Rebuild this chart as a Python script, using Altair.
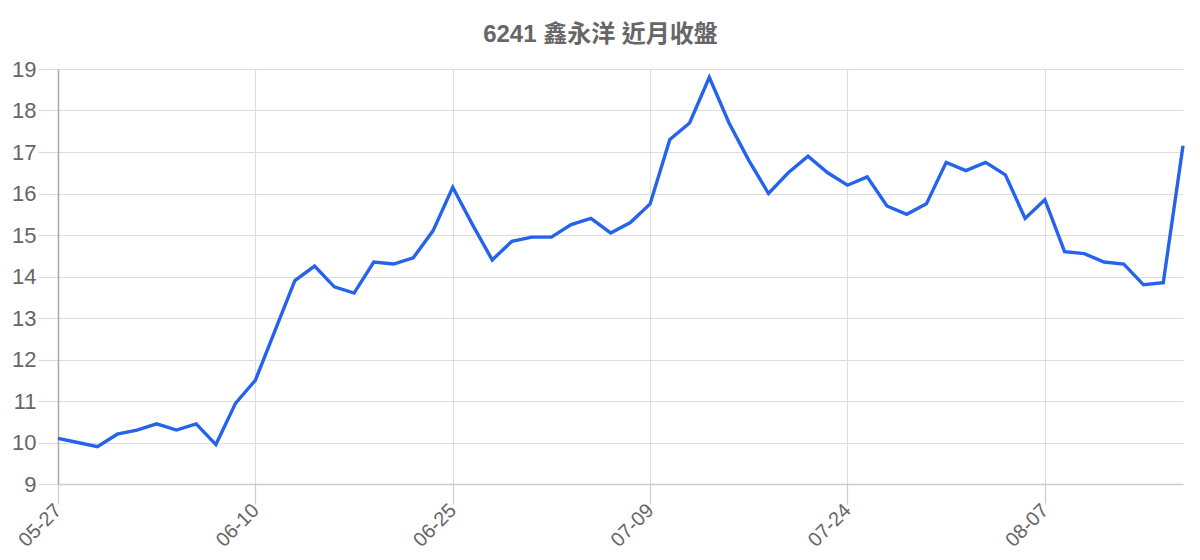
import altair as alt
import pandas as pd

dates = [
    "05-27", "05-28", "05-29", "05-30", "05-31", "06-03", "06-04", "06-05", "06-06", "06-07",
    "06-10", "06-11", "06-12", "06-13", "06-17", "06-18", "06-19", "06-20", "06-21", "06-24",
    "06-25", "06-26", "06-27", "06-28", "07-01", "07-02", "07-03", "07-04", "07-05", "07-08",
    "07-09", "07-10", "07-11", "07-12", "07-15", "07-16", "07-17", "07-18", "07-22", "07-23",
    "07-24", "07-25", "07-26", "07-29", "07-30", "07-31", "08-01", "08-02", "08-05", "08-06",
    "08-07", "08-08", "08-09", "08-12", "08-13", "08-14", "08-15", "08-16",
]
closes = [
    10.1, 10.0, 9.9, 10.2, 10.3, 10.45, 10.3, 10.45, 9.95, 10.95,
    11.5, 12.7, 13.9, 14.25, 13.75, 13.6, 14.35, 14.3, 14.45, 15.1,
    16.15, 15.25, 14.4, 14.85, 14.95, 14.95, 15.25, 15.4, 15.05, 15.3,
    15.75, 17.3, 17.7, 18.8, 17.7, 16.8, 16.0, 16.5, 16.9, 16.5,
    16.2, 16.4, 15.7, 15.5, 15.75, 16.75, 16.55, 16.75, 16.45, 15.4,
    15.85, 14.6, 14.55, 14.35, 14.3, 13.8, 13.85, 17.15,
]
tick_dates = ["05-27", "06-10", "06-25", "07-09", "07-24", "08-07"]
y_ticks = list(range(9, 20))
title_text = "6241 鑫永洋 近月收盤"

df = pd.DataFrame({"date": dates, "close": closes})

FONT = "Liberation Sans, Noto Sans CJK TC, sans-serif"

chart = (
    alt.Chart(df)
    .mark_line(color="#2563eb", strokeWidth=3.4, strokeJoin="miter")
    .encode(
        x=alt.X(
            "date:O",
            sort=dates,
            scale=alt.Scale(type="point", padding=0),
            axis=alt.Axis(
                values=tick_dates,
                title=None,
                labelAngle=-45,
                labelAlign="right",
                labelBaseline="middle",
                labelFontSize=20,
                labelColor="#666666",
                labelFont=FONT,
                labelPadding=3,
                tickSize=20,
                tickColor="#cccccc",
                tickWidth=1.2,
                grid=True,
                gridColor="#dddddd",
                gridWidth=1.2,
                domainColor="#cccccc",
                domainWidth=1.5,
            ),
        ),
        y=alt.Y(
            "close:Q",
            scale=alt.Scale(domain=[9, 19], nice=False, zero=False),
            axis=alt.Axis(
                values=y_ticks,
                title=None,
                labelFontSize=22,
                labelColor="#666666",
                labelFont=FONT,
                labelPadding=2,
                tickSize=20,
                tickColor="#dddddd",
                tickWidth=1.2,
                gridColor="#dddddd",
                gridWidth=1.2,
                domainColor="#aaaaaa",
                domainWidth=1.5,
            ),
        ),
    )
    .properties(
        width=1125,
        height=415,
        title=alt.TitleParams(
            title_text,
            fontSize=24,
            fontWeight="bold",
            color="#666666",
            font=FONT,
            anchor="middle",
            dx=-20,
            offset=11,
        ),
        autosize=alt.AutoSizeParams(type="none"),
        padding={"left": 50, "top": 61, "right": 9, "bottom": 80},
    )
    .configure_view(stroke=None)
)

chart.save("out.html", embed_options={"renderer": "svg", "actions": False})
